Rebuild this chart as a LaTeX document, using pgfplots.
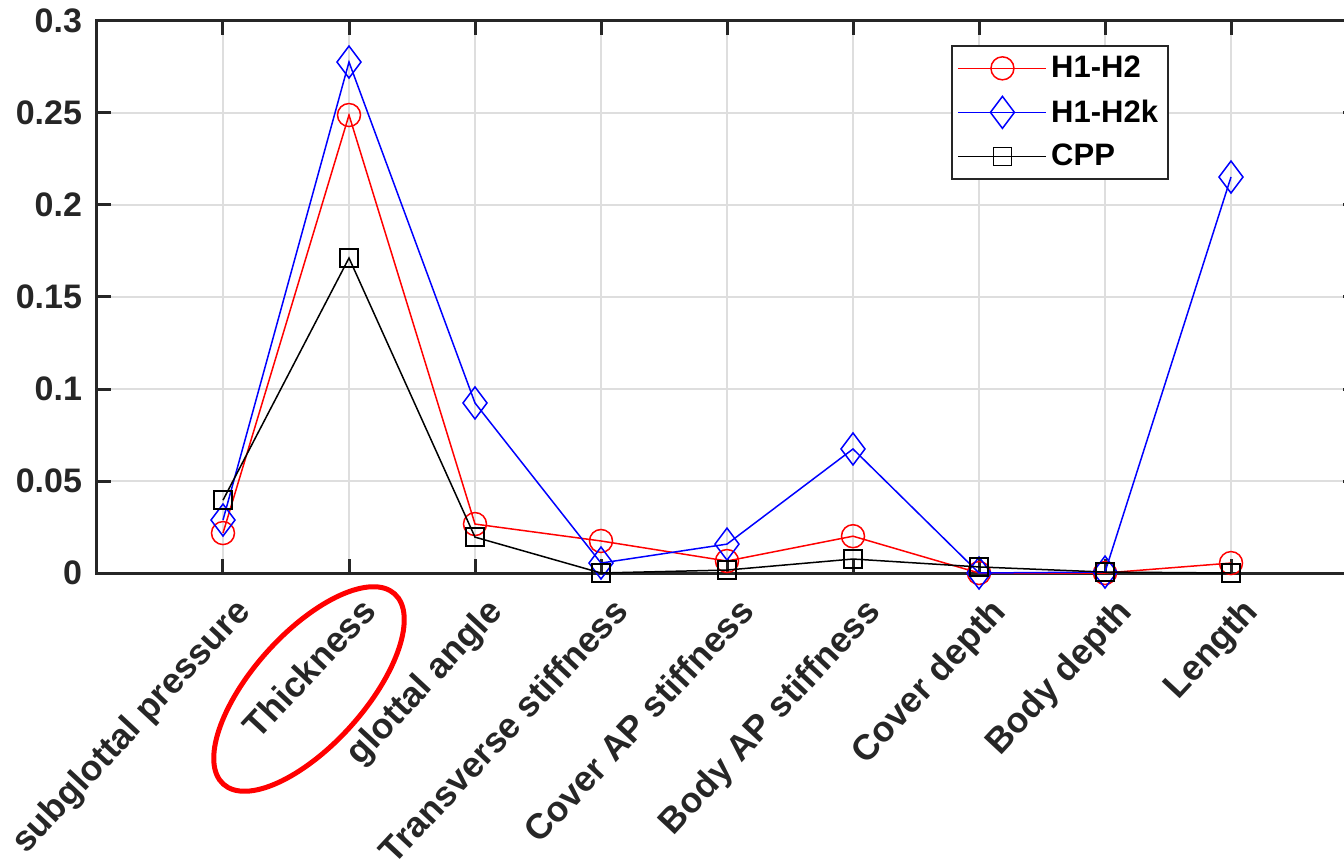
\documentclass[border=0pt]{standalone}
\usepackage{fontspec}
\setmainfont{Liberation Sans}
\usepackage{pgfplots}
\pgfplotsset{compat=1.18}
\usetikzlibrary{calc}
\definecolor{axgray}{gray}{0.15}
\definecolor{gridgray}{gray}{0.87}
\begin{document}
\begin{tikzpicture}
\begin{axis}[
  name=ax,
  scale only axis,
  width=630pt, height=276pt,
  xmin=0, xmax=10, ymin=0, ymax=0.3,
  clip mode=individual,
  axis line style={axgray, line width=1.5pt},
  every tick/.style={axgray, line width=1.5pt},
  major tick length=7pt,
  grid=major,
  major grid style={gridgray, line width=1.2pt},
  tick label style={font=\fontsize{17}{20}\selectfont\bfseries, text=axgray},
  xtick={1,2,3,4,5,6,7,8,9},
  xticklabels={subglottal pressure, Thickness, glottal angle, Transverse stiffness, Cover AP stiffness, Body AP stiffness, Cover depth, Body depth, Length},
  xticklabel style={font=\fontsize{17.8}{20}\selectfont\bfseries, xshift=14.5pt, yshift=-20pt, rotate=47, anchor=base east, inner sep=0pt},
  yticklabel style={xshift=-4pt},
  ytick={0,0.05,0.1,0.15,0.2,0.25,0.3},
  yticklabels={0,0.05,0.1,0.15,0.2,0.25,0.3},
  legend style={at={(0.8508,0.9565)}, anchor=north east, draw=axgray, line width=1pt,
    font=\fontsize{15.5}{18}\selectfont\bfseries, inner xsep=3pt, inner ysep=3pt, row sep=5.5pt},
  legend cell align=left,
  legend image code/.code={\draw[mark repeat=2,mark phase=2] plot coordinates {(0pt,0pt)(22pt,0pt)(44pt,0pt)};},
]
\addplot[color=red, draw=red, line width=0.75pt, mark=o, mark size=5.75pt, mark options={solid, draw=red}] coordinates {
(1,0.0217)(2,0.2489)(3,0.0266)(4,0.0174)(5,0.0065)(6,0.0200)(7,0)(8,0)(9,0.0054)};
\addlegendentry{H1-H2}
\addplot[color=blue, draw=blue, line width=0.75pt, mark=diamond, mark size=8pt, mark options={solid, draw=blue}] coordinates {
(1,0.0288)(2,0.2777)(3,0.0924)(4,0.0054)(5,0.0157)(6,0.0674)(7,0)(8,0.0005)(9,0.2152)};
\addlegendentry{H1-H2k}
\addplot[color=black, draw=black, line width=0.75pt, mark=square, mark size=4.5pt, mark options={solid, draw=black}] coordinates {
(1,0.0396)(2,0.1712)(3,0.0195)(4,0)(5,0.0016)(6,0.0076)(7,0.0033)(8,0.0005)(9,0)};
\addlegendentry{CPP}
\end{axis}
\path (ax.south west) ++(106pt,-58pt) coordinate (ec);
\draw[red, line width=2.5pt, rotate around={48:(ec)}] (ec) ellipse (64pt and 28pt);
\pgfresetboundingbox
\useasboundingbox ($(ax.south west)+(-48.5pt,-147pt)$) rectangle ($(ax.north west)+(623.5pt,10.5pt)$);
\end{tikzpicture}
\end{document}
